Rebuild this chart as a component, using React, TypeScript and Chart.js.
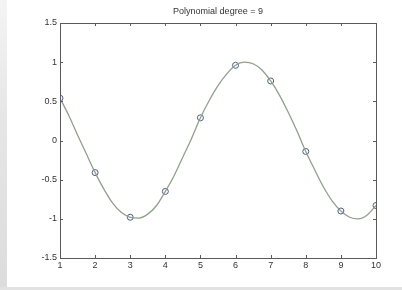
import React, { useEffect, useRef } from "react";
import { Chart, registerables } from "chart.js";

Chart.register(...registerables);

const titleText = "Polynomial degree = 9";
const sampleX = [1, 2, 3, 4, 5, 6, 7, 8, 9, 10];
const sampleY = [0.54, -0.41, -0.98, -0.65, 0.29, 0.96, 0.76, -0.14, -0.9, -0.83];
const curveX = [
  1, 1.25, 1.5, 1.75, 2, 2.25, 2.5, 2.75, 3, 3.25, 3.5, 3.75, 4, 4.25, 4.5, 4.75,
  5, 5.25, 5.5, 5.75, 6, 6.25, 6.5, 6.75, 7, 7.25, 7.5, 7.75, 8, 8.25, 8.5, 8.75,
  9, 9.25, 9.5, 9.75, 10,
];
const curveY = [
  0.54, 0.32, 0.07, -0.17, -0.41, -0.62, -0.8, -0.92, -0.98, -0.99, -0.94, -0.83,
  -0.65, -0.45, -0.21, 0.03, 0.29, 0.51, 0.7, 0.85, 0.96, 1.0, 0.98, 0.9, 0.76,
  0.58, 0.36, 0.12, -0.14, -0.37, -0.59, -0.77, -0.9, -0.98, -1.0, -0.95, -0.83,
];
const xTicks = [1, 2, 3, 4, 5, 6, 7, 8, 9, 10];
const yTicks = [-1.5, -1, -0.5, 0, 0.5, 1, 1.5];

const FONT = "'Liberation Sans', Arial, sans-serif";

const framePlugin = {
  id: "frame",
  afterDraw(chart: any) {
    const { ctx, chartArea: a, scales } = chart;
    ctx.save();
    ctx.strokeStyle = "#5a5a5a";
    ctx.lineWidth = 1;
    ctx.strokeRect(a.left + 0.5, a.top + 0.5, a.right - a.left, a.bottom - a.top);
    ctx.beginPath();
    const t = 3;
    xTicks.forEach((v) => {
      const x = Math.round(scales.x.getPixelForValue(v)) + 0.5;
      ctx.moveTo(x, a.bottom);
      ctx.lineTo(x, a.bottom - t);
      ctx.moveTo(x, a.top);
      ctx.lineTo(x, a.top + t);
    });
    yTicks.forEach((v) => {
      const y = Math.round(scales.y.getPixelForValue(v)) + 0.5;
      ctx.moveTo(a.left, y);
      ctx.lineTo(a.left + t, y);
      ctx.moveTo(a.right, y);
      ctx.lineTo(a.right - t, y);
    });
    ctx.stroke();
    ctx.fillStyle = "#333";
    ctx.font = `9px ${FONT}`;
    ctx.textAlign = "center";
    ctx.textBaseline = "middle";
    ctx.fillText(titleText, (a.left + a.right) / 2, 12);
    ctx.restore();
  },
};

export default function App() {
  const ref = useRef<HTMLCanvasElement>(null);
  useEffect(() => {
    if (!ref.current) return;
    const chart = new Chart(ref.current, {
      type: "scatter",
      data: {
        datasets: [
          {
            label: "fit",
            data: curveX.map((x, i) => ({ x, y: curveY[i] })),
            showLine: true,
            borderColor: "#8fa08c",
            borderWidth: 1.3,
            pointRadius: 0,
            tension: 0.4,
            cubicInterpolationMode: "monotone",
          },
          {
            label: "samples",
            data: sampleX.map((x, i) => ({ x, y: sampleY[i] })),
            showLine: false,
            pointStyle: "circle",
            pointRadius: 3,
            pointBorderWidth: 1,
            pointBorderColor: "#4c5a80",
            pointBackgroundColor: "rgba(255,255,255,0.6)",
          },
        ],
      },
      options: {
        responsive: false,
        animation: false,
        layout: { padding: { left: 8, top: 23, right: 26, bottom: 0 } },
        plugins: { legend: { display: false }, tooltip: { enabled: false }, title: { display: false } },
        scales: {
          x: {
            type: "linear",
            min: 1,
            max: 10,
            afterFit: (s: any) => {
              s.height = 32;
            },
            afterBuildTicks: (s: any) => {
              s.ticks = xTicks.map((v) => ({ value: v }));
            },
            grid: { display: false, drawTicks: false },
            border: { display: false },
            ticks: {
              padding: 2,
              color: "#333",
              font: { family: FONT, size: 9 },
              maxRotation: 0,
              autoSkip: false,
            },
          },
          y: {
            type: "linear",
            min: -1.5,
            max: 1.5,
            afterFit: (s: any) => {
              s.width = 52;
            },
            afterBuildTicks: (s: any) => {
              s.ticks = yTicks.map((v) => ({ value: v }));
            },
            grid: { display: false, drawTicks: false },
            border: { display: false },
            ticks: {
              padding: 3,
              color: "#333",
              font: { family: FONT, size: 9 },
              autoSkip: false,
              callback: (v: any) => String(v),
            },
          },
        },
      },
      plugins: [framePlugin],
    } as any);
    return () => chart.destroy();
  }, []);
  return (
    <div style={{ position: "fixed", left: 0, top: 0, width: 402, height: 290, background: "#fff" }}>
      <div
        style={{
          position: "absolute",
          left: 0,
          top: 0,
          width: 7,
          height: 290,
          background: "linear-gradient(#f4f4f4, #e6e6e6 40%, #dcdcdc)",
        }}
      />
      <div style={{ position: "absolute", left: 0, top: 287, width: 402, height: 3, background: "#e2e2e2" }} />
      <canvas ref={ref} width={402} height={290} style={{ position: "absolute", left: 0, top: 0 }} />
    </div>
  );
}
